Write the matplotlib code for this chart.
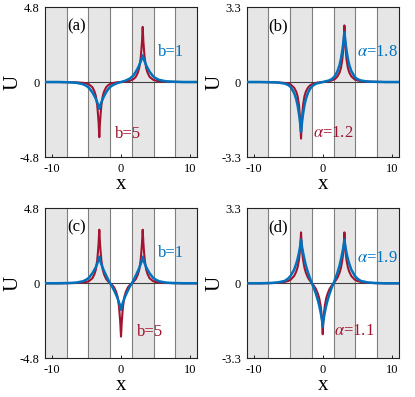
import numpy as np
import matplotlib.pyplot as plt

plt.rcParams['font.family'] = ['Liberation Serif', 'DejaVu Serif']
plt.rcParams['mathtext.fontset'] = 'stix'

# shared x grid (dense around the peaks at -pi, 0, pi)
x = [-11.0, -9.0, -7.5, -6.5, -5.5, -5.0, -4.64, -4.14, -3.84, -3.64, -3.44, -3.34,
     -3.24, -3.19, -3.14, -3.09, -3.04, -2.94, -2.84, -2.64, -2.44, -2.14, -1.84,
     -1.57, -1.3, -1.0, -0.7, -0.5, -0.3, -0.2, -0.1, -0.05, 0.0,
     0.05, 0.1, 0.2, 0.3, 0.5, 0.7, 1.0, 1.3, 1.57, 1.84, 2.14, 2.44, 2.64, 2.84,
     2.94, 3.04, 3.09, 3.14, 3.19, 3.24, 3.34, 3.44, 3.64, 3.84, 4.14, 4.64, 5.0,
     5.5, 6.5, 7.5, 9.0, 11.0]

# (a) b=5 (red), b=1 (blue)
a_red = [0, 0, -0.01, -0.02, -0.05, -0.09, -0.15, -0.33, -0.6, -0.9, -1.5, -2.0, -2.6,
         -3.05, -3.53, -3.05, -2.6, -2.0, -1.5, -0.9, -0.6, -0.33, -0.2, -0.13, -0.08,
         -0.05, -0.03, -0.01, -0.01, 0, 0, 0, 0,
         0, 0, 0, 0.01, 0.01, 0.03, 0.05, 0.08, 0.13, 0.2, 0.33, 0.6, 0.9, 1.5, 2.0,
         2.6, 3.05, 3.53, 3.05, 2.6, 2.0, 1.5, 0.9, 0.6, 0.33, 0.15, 0.09, 0.05, 0.02,
         0.01, 0, 0]
a_blue = [0, 0, -0.02, -0.045, -0.14, -0.25, -0.37, -0.66, -0.9, -1.08, -1.3, -1.42,
          -1.55, -1.63, -1.71, -1.63, -1.55, -1.42, -1.3, -1.08, -0.89, -0.65, -0.45,
          -0.325, -0.23, -0.16, -0.1, -0.065, -0.04, -0.025, -0.015, -0.005, 0,
          0.005, 0.015, 0.025, 0.04, 0.065, 0.1, 0.16, 0.23, 0.325, 0.45, 0.65, 0.89,
          1.08, 1.3, 1.42, 1.55, 1.63, 1.71, 1.63, 1.55, 1.42, 1.3, 1.08, 0.9, 0.66,
          0.37, 0.25, 0.14, 0.045, 0.02, 0, 0]

# (b) alpha=1.2 (red), alpha=1.8 (blue)
b_red = [0, 0, -0.01, -0.02, -0.04, -0.07, -0.11, -0.25, -0.42, -0.62, -1.0, -1.35,
         -1.85, -2.15, -2.49, -2.15, -1.85, -1.35, -1.0, -0.62, -0.42, -0.25, -0.15,
         -0.1, -0.07, -0.04, -0.02, -0.02, -0.005, 0, 0, 0, 0,
         0, 0, 0, 0.005, 0.02, 0.02, 0.04, 0.07, 0.1, 0.15, 0.25, 0.42, 0.62, 1.0,
         1.35, 1.85, 2.15, 2.49, 2.15, 1.85, 1.35, 1.0, 0.62, 0.42, 0.25, 0.11, 0.07,
         0.04, 0.02, 0.01, 0, 0]
b_blue = [0, 0, -0.01, -0.02, -0.07, -0.13, -0.22, -0.48, -0.75, -1.02, -1.4, -1.62,
          -1.9, -2.05, -2.19, -2.05, -1.9, -1.62, -1.4, -1.02, -0.75, -0.48, -0.3,
          -0.2, -0.13, -0.08, -0.05, -0.04, -0.02, -0.015, -0.01, -0.005, 0,
          0.005, 0.01, 0.015, 0.02, 0.04, 0.05, 0.08, 0.13, 0.2, 0.3, 0.48, 0.75,
          1.02, 1.4, 1.62, 1.9, 2.05, 2.19, 2.05, 1.9, 1.62, 1.4, 1.02, 0.75, 0.48,
          0.22, 0.13, 0.07, 0.02, 0.01, 0, 0]

# (c) b=5 (red), b=1 (blue)
c_red = [0, 0, 0.01, 0.02, 0.05, 0.085, 0.14, 0.32, 0.59, 0.88, 1.48, 1.98, 2.58,
         3.03, 3.43, 3.03, 2.58, 1.975, 1.47, 0.87, 0.56, 0.27, 0.11, 0, -0.1, -0.26,
         -0.55, -0.85, -1.45, -1.955, -2.56, -3.01, -3.41,
         -3.01, -2.56, -1.955, -1.45, -0.85, -0.55, -0.26, -0.1, 0, 0.11, 0.27, 0.56,
         0.87, 1.47, 1.975, 2.58, 3.03, 3.43, 3.03, 2.58, 1.98, 1.48, 0.88, 0.59,
         0.32, 0.14, 0.085, 0.05, 0.02, 0.01, 0, 0]
c_blue = [0, 0.005, 0.02, 0.045, 0.13, 0.24, 0.355, 0.64, 0.87, 1.045, 1.26, 1.375,
          1.51, 1.61, 1.7, 1.61, 1.5, 1.35, 1.22, 0.98, 0.775, 0.49, 0.22, 0, -0.19,
          -0.46, -0.74, -0.95, -1.2, -1.33, -1.5, -1.6, -1.7,
          -1.6, -1.5, -1.33, -1.2, -0.95, -0.74, -0.46, -0.19, 0, 0.22, 0.49, 0.775,
          0.98, 1.22, 1.35, 1.5, 1.61, 1.7, 1.61, 1.51, 1.375, 1.26, 1.045, 0.87, 0.64,
          0.355, 0.24, 0.13, 0.045, 0.02, 0.005, 0]

# (d) alpha=1.1 (red), alpha=1.9 (blue)
d_red = [0, 0, 0.01, 0.02, 0.06, 0.1, 0.16, 0.32, 0.51, 0.7, 1.03, 1.28, 1.68, 1.93,
         2.24, 1.93, 1.68, 1.28, 1.03, 0.68, 0.47, 0.25, 0.11, 0, -0.1, -0.24, -0.46,
         -0.66, -1.0, -1.25, -1.65, -1.9, -2.24,
         -1.9, -1.65, -1.25, -1.0, -0.66, -0.46, -0.24, -0.1, 0, 0.11, 0.25, 0.47,
         0.68, 1.03, 1.28, 1.68, 1.93, 2.24, 1.93, 1.68, 1.28, 1.03, 0.7, 0.51, 0.32,
         0.16, 0.1, 0.06, 0.02, 0.01, 0, 0]
d_blue = [0, 0, 0.015, 0.04, 0.105, 0.21, 0.33, 0.6, 0.855, 1.07, 1.345, 1.51, 1.685,
          1.78, 1.92, 1.78, 1.685, 1.51, 1.345, 1.05, 0.785, 0.48, 0.22, 0, -0.195,
          -0.45, -0.755, -0.99, -1.285, -1.455, -1.635, -1.73, -1.9,
          -1.73, -1.635, -1.455, -1.285, -0.99, -0.755, -0.45, -0.195, 0, 0.22, 0.48,
          0.785, 1.05, 1.345, 1.51, 1.685, 1.78, 1.92, 1.78, 1.685, 1.51, 1.345, 1.07,
          0.855, 0.6, 0.33, 0.21, 0.105, 0.04, 0.015, 0, 0]

# shaded lattice regions
band_lo = [-11.0, -4.71, 1.57, 7.85]
band_hi = [-7.85, -1.57, 4.71, 11.0]
band_edges = [-7.85, -4.71, -1.57, 1.57, 4.71, 7.85]

RED = '#A2142F'
BLUE = '#0072BD'

panels = [
    dict(pos=[0.1084, 0.6045, 0.3663, 0.3778], red=a_red, blue=a_blue, ymax=4.8,
         tag='(a)', tag_y=3.55, blab='b=1', rlab='b=5', bpos=(5.4, 1.9), rpos=(-0.8, -3.3)),
    dict(pos=[0.5945, 0.6045, 0.3663, 0.3778], red=b_red, blue=b_blue, ymax=3.3,
         tag='(b)', tag_y=2.45, blab=r'$\alpha$=1.8', rlab=r'$\alpha$=1.2',
         bpos=(4.9, 1.32), rpos=(-1.45, -2.26)),
    dict(pos=[0.1084, 0.0975, 0.3663, 0.3778], red=c_red, blue=c_blue, ymax=4.8,
         tag='(c)', tag_y=3.55, blab='b=1', rlab='b=5', bpos=(5.3, 1.92), rpos=(2.3, -3.1)),
    dict(pos=[0.5945, 0.0975, 0.3663, 0.3778], red=d_red, blue=d_blue, ymax=3.3,
         tag='(d)', tag_y=2.45, blab=r'$\alpha$=1.9', rlab=r'$\alpha$=1.1',
         bpos=(4.95, 1.1), rpos=(1.7, -2.12)),
]

fig = plt.figure(figsize=(4.15, 3.97), dpi=100)

for p in panels:
    ax = fig.add_axes(p['pos'])
    for lo, hi in zip(band_lo, band_hi):
        ax.axvspan(lo, hi, color='#e6e6e6', lw=0, zorder=0)
    for e in band_edges:
        ax.axvline(e, color='#7f7f7f', lw=0.8, zorder=1)
    ax.axhline(0, color='#404040', lw=0.8, zorder=1)
    ax.plot(x, p['red'], color=RED, lw=1.5, zorder=3)
    ax.plot(x, p['blue'], color=BLUE, lw=1.8, zorder=4)

    ym = p['ymax']
    ax.set_xlim(-11, 11)
    ax.set_ylim(-ym, ym)
    ax.set_xticks([-10, 0, 10])
    ax.set_xticklabels(['-10', '0', '10'])
    ax.set_yticks([-ym, 0, ym])
    ax.set_yticklabels(['-%.1f' % ym, '0', '%.1f' % ym])
    ax.tick_params(direction='in', length=2.5, width=0.6, labelsize=9, pad=4,
                   top=False, right=False)
    for s in ax.spines.values():
        s.set_linewidth(0.8)
        s.set_color('#222222')
    ax.set_xlabel('x', fontsize=15, labelpad=0)
    ax.set_ylabel('U', fontsize=15)
    ax.yaxis.set_label_coords(-0.145, 0.5)

    ax.text(-6.4, p['tag_y'], p['tag'], fontsize=12, ha='center', va='center', zorder=5)
    ax.text(p['bpos'][0], p['bpos'][1], p['blab'], color=BLUE, fontsize=12,
            ha='left', va='center', zorder=5)
    ax.text(p['rpos'][0], p['rpos'][1], p['rlab'], color=RED, fontsize=12,
            ha='left', va='center', zorder=5)

fig.savefig('out.png', dpi=100)
